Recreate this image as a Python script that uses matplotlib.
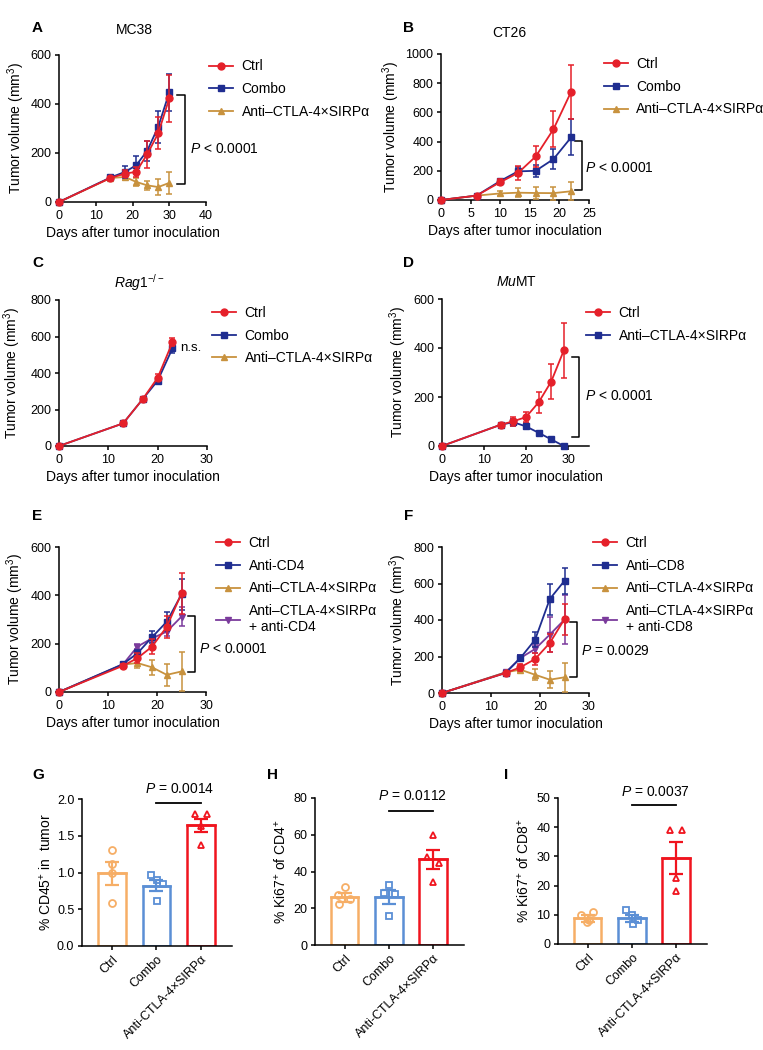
import numpy as np
import matplotlib
matplotlib.use("Agg")
import matplotlib.pyplot as plt

plt.rcParams['font.family'] = ['Liberation Sans', 'DejaVu Sans']
plt.rcParams['mathtext.fontset'] = 'custom'
plt.rcParams['mathtext.rm'] = 'Liberation Sans'
plt.rcParams['mathtext.it'] = 'Liberation Sans:italic'
plt.rcParams['mathtext.bf'] = 'Liberation Sans:bold'
plt.rcParams['axes.linewidth'] = 1.1
plt.rcParams['xtick.major.width'] = 1.1
plt.rcParams['ytick.major.width'] = 1.1
plt.rcParams['xtick.major.size'] = 3
plt.rcParams['ytick.major.size'] = 3
plt.rcParams['xtick.major.pad'] = 2.5
plt.rcParams['ytick.major.pad'] = 2.5
plt.rcParams['xtick.labelsize'] = 9
plt.rcParams['ytick.labelsize'] = 9

# ---- data ----
A_days = [0, 14, 18, 21, 24, 27, 30]
A_ctrl = [0, 98, 116, 123, 195, 280, 423]
A_ctrl_sem = [0, 5, 15, 20, 55, 65, 95]
A_combo = [0, 100, 123, 150, 209, 307, 447]
A_combo_sem = [0, 6, 24, 37, 40, 65, 75]
A_anti = [0, 98, 102, 82, 68, 61, 78]
A_anti_sem = [0, 5, 12, 15, 18, 34, 45]

B_days = [0, 6, 10, 13, 16, 19, 22]
B_ctrl = [0, 30, 122, 185, 298, 485, 743]
B_ctrl_sem = [0, 5, 20, 45, 75, 125, 185]
B_combo = [0, 30, 130, 196, 200, 280, 430]
B_combo_sem = [0, 5, 15, 30, 40, 70, 122]
B_anti = [0, 30, 45, 50, 48, 47, 60]
B_anti_sem = [0, 5, 20, 30, 40, 45, 62]

C_days = [0, 13, 17, 20, 23]
C_ctrl = [0, 124, 258, 374, 568]
C_ctrl_sem = [0, 8, 10, 20, 22]
C_combo = [0, 124, 258, 358, 535]
C_combo_sem = [0, 8, 10, 15, 25]

D_days = [0, 14, 17, 20, 23, 26, 29]
D_ctrl = [0, 87, 101, 118, 178, 263, 390]
D_ctrl_sem = [0, 8, 18, 22, 43, 72, 111]
D_anti = [0, 87, 97, 80, 54, 27, 0]
D_anti_sem = [0, 8, 15, 12, 6, 4, 2]

E_days = [0, 13, 16, 19, 22, 25]
E_ctrl = [0, 108, 140, 188, 270, 408]
E_ctrl_sem = [0, 8, 20, 30, 45, 85]
E_cd4 = [0, 115, 160, 227, 291, 404]
E_cd4_sem = [0, 6, 15, 25, 40, 65]
E_anti = [0, 113, 120, 102, 71, 85]
E_anti_sem = [0, 6, 22, 30, 45, 80]
E_anti_cd4 = [0, 113, 188, 222, 250, 312]
E_anti_cd4_sem = [0, 6, 12, 15, 20, 40]

F_days = [0, 13, 16, 19, 22, 25]
F_ctrl = [0, 110, 141, 186, 274, 405]
F_ctrl_sem = [0, 6, 20, 35, 50, 85]
F_cd8 = [0, 110, 192, 292, 515, 615]
F_cd8_sem = [0, 6, 15, 40, 85, 72]
F_anti = [0, 113, 128, 100, 73, 86]
F_anti_sem = [0, 6, 20, 30, 45, 80]
F_anti_cd8 = [0, 113, 192, 241, 320, 402]
F_anti_cd8_sem = [0, 6, 15, 20, 95, 133]

bar_groups = ["Ctrl", "Combo", "Anti-CTLA-4×SIRPα"]

G_mean = [0.99, 0.82, 1.64]
G_sem = [0.155, 0.075, 0.09]
G_pts = [[1.30, 1.12, 0.99, 0.585],
         [0.97, 0.90, 0.84, 0.61],
         [1.80, 1.80, 1.63, 1.37]]

H_mean = [26.0, 26.0, 46.7]
H_sem = [2.5, 3.7, 5.2]
H_pts = [[31.5, 27.0, 25.0, 22.5],
         [32.5, 28.5, 27.5, 16.0],
         [60.0, 48.0, 44.5, 34.5]]

I_mean = [8.9, 8.9, 29.5]
I_sem = [1.2, 1.2, 5.4]
I_pts = [[11.0, 10.0, 8.3, 7.4],
         [11.5, 9.8, 8.3, 6.8],
         [39.0, 39.0, 22.5, 18.0]]

# ---- styles ----
RED = '#E5202A'
NAVY = '#1F2D90'
TAN = '#C8923E'
PURPLE = '#7B3B9C'
BAR_COLORS = ['#F6AE66', '#5B8FD5', '#F0141E']
BAR_MARKERS = ['o', 's', '^']
# horizontal jitter of the dots, in bar units
JITTER = {
    'G': [[0, 0, 0, 0], [-0.12, 0.02, 0.14, 0.02], [-0.13, 0.13, 0, 0]],
    'H': [[0, -0.15, 0.13, -0.12], [0, -0.12, 0.13, 0], [0, -0.13, 0.13, 0]],
    'I': [[0.13, -0.14, 0.02, -0.02], [-0.14, 0.0, 0.14, 0.02], [-0.13, 0.13, 0, 0]],
}

W, H = 763, 1050
fig = plt.figure(figsize=(W / 100, H / 100), dpi=100)


def px_axes(l, t, r, b):
    return fig.add_axes([l / W, 1 - b / H, (r - l) / W, (b - t) / H])


def style(ax):
    ax.spines['top'].set_visible(False)
    ax.spines['right'].set_visible(False)


def line_panel(ax, days, series, xlim, xticks, ylim, yticks, legend_xy, ylab_x):
    handles = []
    for i, (label, y, sem, color, marker) in enumerate(series):
        z = 10 - i
        if y is None:
            h, = ax.plot([], [], color=color, marker=marker, ms=5, lw=1.3, label=label)
        else:
            ax.errorbar(days, y, yerr=sem, fmt='none', ecolor=color, elinewidth=1.1,
                        capsize=2.4, capthick=1.1, zorder=z, clip_on=False)
            h, = ax.plot(days, y, color=color, marker=marker, ms=5, lw=1.3,
                         label=label, zorder=z, clip_on=False)
        handles.append(h)
    ax.set_xlim(*xlim)
    ax.set_xticks(xticks)
    ax.set_ylim(*ylim)
    ax.set_yticks(yticks)
    ax.set_xlabel("Days after tumor inoculation", fontsize=10, labelpad=3)
    ax.set_ylabel("Tumor volume (mm$^3$)", fontsize=10)
    ax.yaxis.set_label_coords(ylab_x, 0.5)
    style(ax)
    ax.legend(handles=handles, loc='upper left', bbox_to_anchor=legend_xy, frameon=False,
              fontsize=10, borderpad=0, borderaxespad=0, handlelength=1.75,
              handletextpad=0.6, labelspacing=0.63)


def bracket(ax, xb, ylo, yhi, dx, text, tx, ty):
    ax.plot([xb - dx, xb, xb, xb - dx], [ylo, ylo, yhi, yhi], color='black', lw=1.1,
            clip_on=False)
    ax.text(tx, ty, text, fontsize=10, ha='left', va='center')


def bar_panel(ax, key, means, sems, pts, ylim, yticks, ylabel, ylab_x, ptext, sig_y, text_y):
    x = np.arange(len(bar_groups))
    for i in range(len(bar_groups)):
        ax.bar(x[i], means[i], width=0.62, facecolor='white', edgecolor=BAR_COLORS[i],
               linewidth=1.8, zorder=2)
        px = x[i] + np.array(JITTER[key][i])
        ax.plot(px, pts[i], linestyle='none', marker=BAR_MARKERS[i], ms=5,
                mfc='none', mec=BAR_COLORS[i], mew=1.3, zorder=3, clip_on=False)
        ax.errorbar(x[i], means[i], yerr=sems[i], fmt='none', ecolor=BAR_COLORS[i],
                    elinewidth=1.6, capsize=5, capthick=1.6, zorder=4)
        ax.plot([x[i] - 0.31, x[i] + 0.31], [means[i], means[i]], color=BAR_COLORS[i],
                lw=1.8, zorder=4)
    ax.set_xlim(-0.67, 2.7)
    ax.set_xticks(x)
    ax.set_xticklabels(bar_groups, rotation=45, ha='right', rotation_mode='anchor')
    ax.set_ylim(*ylim)
    ax.set_yticks(yticks)
    ax.set_ylabel(ylabel, fontsize=10)
    ax.yaxis.set_label_coords(ylab_x, 0.5)
    style(ax)
    ax.plot([1, 2], [sig_y, sig_y], color='black', lw=1.3, clip_on=False)
    ax.text(1.53, text_y, ptext, fontsize=10, ha='center', va='center')


PTXT = r"$\it{P}$"

# A
axA = px_axes(59, 55, 206, 202)
line_panel(axA, A_days,
           [("Ctrl", A_ctrl, A_ctrl_sem, RED, 'o'),
            ("Combo", A_combo, A_combo_sem, NAVY, 's'),
            ("Anti–CTLA-4×SIRPα", A_anti, A_anti_sem, TAN, '^')],
           (0, 40), [0, 10, 20, 30, 40], (0, 600), [0, 200, 400, 600], (1.02, 0.97), -0.218)
bracket(axA, 34.35, 75, 436, 2.2, PTXT + " < 0.0001", 35.6, 218)
axA.text(0.51, 1.17, "MC38", transform=axA.transAxes, ha='center', va='center', fontsize=10)

# B
axB = px_axes(441, 54, 589, 200)
line_panel(axB, B_days,
           [("Ctrl", B_ctrl, B_ctrl_sem, RED, 'o'),
            ("Combo", B_combo, B_combo_sem, NAVY, 's'),
            ("Anti–CTLA-4×SIRPα", B_anti, B_anti_sem, TAN, '^')],
           (0, 25), [0, 5, 10, 15, 20, 25], (0, 1000), [0, 200, 400, 600, 800, 1000],
           (1.10, 0.98), -0.264)
bracket(axB, 23.76, 66, 401, 1.2, PTXT + " < 0.0001", 24.3, 219)
axB.text(0.46, 1.145, "CT26", transform=axB.transAxes, ha='center', va='center', fontsize=10)

# C
axC = px_axes(59, 300, 207, 446)
line_panel(axC, C_days,
           [("Ctrl", C_ctrl, C_ctrl_sem, RED, 'o'),
            ("Combo", C_combo, C_combo_sem, NAVY, 's'),
            ("Anti–CTLA-4×SIRPα", None, None, TAN, '^')],
           (0, 30), [0, 10, 20, 30], (0, 800), [0, 200, 400, 600, 800], (1.034, 0.96), -0.245)
axC.text(24.6, 539, "n.s.", fontsize=9.5, ha='left', va='center')
axC.text(0.54, 1.12, r"$\mathit{Rag1}^{\mathit{-/-}}$", transform=axC.transAxes,
         ha='center', va='center', fontsize=10)

# D
axD = px_axes(442, 299, 589, 446)
line_panel(axD, D_days,
           [("Ctrl", D_ctrl, D_ctrl_sem, RED, 'o'),
            ("Anti–CTLA-4×SIRPα", D_anti, D_anti_sem, NAVY, 's')],
           (0, 35), [0, 10, 20, 30], (0, 600), [0, 200, 400, 600], (0.98, 0.952), -0.224)
bracket(axD, 32.6, 35, 363, 1.6, PTXT + " < 0.0001", 34.0, 203)
axD.text(0.51, 1.116, r"$\mathit{Mu}$MT", transform=axD.transAxes,
         ha='center', va='center', fontsize=10)

# E
axE = px_axes(59, 547, 206, 692)
line_panel(axE, E_days,
           [("Ctrl", E_ctrl, E_ctrl_sem, RED, 'o'),
            ("Anti-CD4", E_cd4, E_cd4_sem, NAVY, 's'),
            ("Anti–CTLA-4×SIRPα", E_anti, E_anti_sem, TAN, '^'),
            ("Anti–CTLA-4×SIRPα\n+ anti-CD4", E_anti_cd4, E_anti_cd4_sem, PURPLE, 'v')],
           (0, 30), [0, 10, 20, 30], (0, 600), [0, 200, 400, 600], (1.068, 1.076), -0.224)
bracket(axE, 27.75, 82, 314, 1.4, PTXT + " < 0.0001", 28.5, 178)

# F
axF = px_axes(442, 547, 589, 693)
line_panel(axF, F_days,
           [("Ctrl", F_ctrl, F_ctrl_sem, RED, 'o'),
            ("Anti–CD8", F_cd8, F_cd8_sem, NAVY, 's'),
            ("Anti–CTLA-4×SIRPα", F_anti, F_anti_sem, TAN, '^'),
            ("Anti–CTLA-4×SIRPα\n+ anti-CD8", F_anti_cd8, F_anti_cd8_sem, PURPLE, 'v')],
           (0, 30), [0, 10, 20, 30], (0, 800), [0, 200, 400, 600, 800], (1.027, 1.076), -0.224)
bracket(axF, 27.6, 86, 389, 1.4, PTXT + " = 0.0029", 28.3, 228)

# G, H, I
axG = px_axes(82, 799, 232, 946)
bar_panel(axG, 'G', G_mean, G_sem, G_pts, (0, 2.0), [0, 0.5, 1.0, 1.5, 2.0],
          "% CD45$^{+}$ in  tumor", -0.187, PTXT + " = 0.0014", 1.94, 2.14)
axG.yaxis.set_major_formatter(matplotlib.ticker.FormatStrFormatter('%.1f'))

axH = px_axes(315, 798, 464, 945)
bar_panel(axH, 'H', H_mean, H_sem, H_pts, (0, 80), [0, 20, 40, 60, 80],
          "% Ki67$^{+}$ of CD4$^{+}$", -0.175, PTXT + " = 0.0112", 73, 81)

axI = px_axes(558, 798, 707, 944)
bar_panel(axI, 'I', I_mean, I_sem, I_pts, (0, 50), [0, 10, 20, 30, 40, 50],
          "% Ki67$^{+}$ of CD8$^{+}$", -0.18, PTXT + " = 0.0037", 47.5, 52)

# panel letters
for letter, lx, ly in [("A", 32, 28), ("B", 403, 28), ("C", 32, 263), ("D", 403, 263),
                       ("E", 32, 516), ("F", 404, 516), ("G", 32, 775), ("H", 267, 775),
                       ("I", 504, 775)]:
    fig.text(lx / W, 1 - ly / H, letter, fontsize=11, fontweight='bold',
             ha='left', va='center')

fig.savefig("out.png", dpi=100)
